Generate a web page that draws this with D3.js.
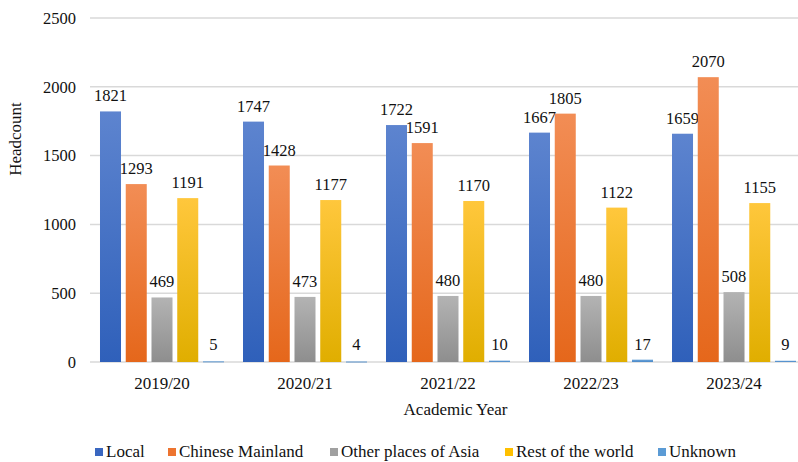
<!DOCTYPE html>
<html><head><meta charset="utf-8">
<script src="https://cdn.jsdelivr.net/npm/d3@7"></script>
<style>body{margin:0;background:#fff}svg{display:block}</style>
</head><body><svg id="c" width="798" height="462"></svg>
<script>
const years = ["2019/20","2020/21","2021/22","2022/23","2023/24"];
const seriesNames = ["Local","Chinese Mainland","Other places of Asia","Rest of the world","Unknown"];
const local = [1821,1747,1722,1667,1659];
const mainland = [1293,1428,1591,1805,2070];
const otherAsia = [469,473,480,480,508];
const restWorld = [1191,1177,1170,1122,1155];
const unknown = [5,4,10,17,9];
const yTicks = [0,500,1000,1500,2000,2500];
const seriesValues = [local, mainland, otherAsia, restWorld, unknown];
const colors = [["#5d84cf","#2f60ba"],["#f28d55","#e5671b"],["#b3b3b3","#8e8e8e"],["#ffc73c","#e0ae00"],["#6aa3d9","#4a88c8"]];
const legendColors = ["#3a67c0","#ed7430","#a0a0a0","#ffc000","#5b9bd5"];
const FONT = '"Liberation Serif"';
function txt(sel, size){ return sel.style("font-family", FONT).style("font-size",(size||17)+"px").attr("fill","#111"); }

const svg = d3.select("#c");
const m = {l:90.5, r:805.5, t:18, b:362};
const x0 = d3.scaleBand().domain(years).range([m.l, m.r]).paddingInner(0.1329).paddingOuter(0.0664);
const x1 = d3.scaleBand().domain(d3.range(5)).range([0, x0.bandwidth()]).paddingInner(0.184);
const y = d3.scaleLinear().domain([0,2500]).range([m.b, m.t]);

const defs = svg.append("defs");
colors.forEach((c,i)=>{
  const g = defs.append("linearGradient").attr("id","g"+i).attr("x1",0).attr("y1",0).attr("x2",0).attr("y2",1);
  g.append("stop").attr("offset","0%").attr("stop-color",c[0]);
  g.append("stop").attr("offset","100%").attr("stop-color",c[1]);
});

// gridlines
svg.append("g").selectAll("line").data(yTicks).join("line")
  .attr("x1",90).attr("x2",798).attr("y1",d=>y(d)).attr("y2",d=>y(d))
  .attr("stroke","#d9d9d9").attr("stroke-width",1.5);

// y axis labels
const yAxis = d3.axisLeft(y).tickValues(yTicks).tickSize(0).tickPadding(12).tickFormat(d3.format("d"));
const ya = svg.append("g").attr("transform",`translate(${88},0)`).call(yAxis);
ya.select(".domain").remove();
txt(ya.selectAll("text"), 16.5);

// bars
const groups = svg.append("g").selectAll("g").data(years).join("g")
  .attr("transform",d=>`translate(${x0(d)},0)`);
groups.each(function(yr, yi){
  const g = d3.select(this);
  seriesValues.forEach((vals, si)=>{
    const v = vals[yi];
    g.append("rect").attr("x",x1(si)).attr("width",x1.bandwidth())
      .attr("y",y(v)).attr("height",Math.max(y(0)-y(v),1))
      .attr("fill",`url(#g${si})`);
    let ly = y(v) - 10;
    if (si===4) ly = y(0) - 12;
    txt(g.append("text").attr("x",x1(si)+x1.bandwidth()/2).attr("y",ly)
      .attr("text-anchor","middle"), 16.5).text(v);
  });
});

// x axis labels
const xAxis = d3.axisBottom(x0).tickSize(0).tickPadding(15);
const xa = svg.append("g").attr("transform",`translate(0,${m.b})`).call(xAxis);
xa.select(".domain").remove();
txt(xa.selectAll("text"));

// axis titles
txt(svg.append("text").attr("transform","translate(21,139) rotate(-90)").attr("text-anchor","middle")).text("Headcount");
txt(svg.append("text").attr("x",455.5).attr("y",415).attr("text-anchor","middle")).text("Academic Year");

// legend
const legX = [95,168,330,505,658];
const lg = svg.append("g").selectAll("g").data(seriesNames).join("g")
  .attr("transform",(d,i)=>`translate(${legX[i]},457)`);
lg.append("rect").attr("x",0).attr("y",-9).attr("width",8).attr("height",8).attr("fill",(d,i)=>legendColors[i]);
txt(lg.append("text").attr("x",11).attr("y",0)).text(d=>d);
</script></body></html>
